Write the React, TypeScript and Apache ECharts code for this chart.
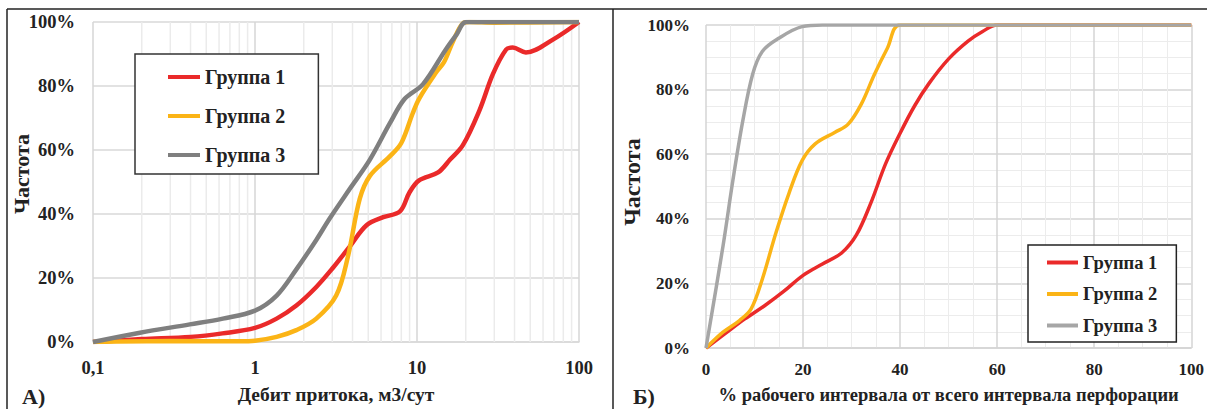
import React, { useEffect, useRef } from "react";
import * as echarts from "echarts";

const FONT = "Liberation Serif, Times New Roman, serif";

const seriesNames = ["Группа 1", "Группа 2", "Группа 3"];
const yTitle = "Частота";

// Left chart (A): log x (дебит), y = cumulative frequency %
const leftGroup1: [number, number][] = [
  [0.1, 0], [0.2, 0.9], [0.4, 1.6], [0.63, 2.7], [1, 4.4], [1.36, 7.3], [1.8, 11.4],
  [2.39, 17.2], [3.03, 23.2], [3.84, 29.8], [4.88, 36.5], [6.19, 39],
  [7.85, 40.8], [9, 46.8], [10.3, 50.5], [13.5, 53], [16, 57], [19.2, 61.5],
  [24.3, 72.4], [29.4, 83.7], [35.5, 91.4], [39, 92], [47, 90.5], [69, 94.5], [100, 100],
];
const leftGroup2: [number, number][] = [
  [0.1, 0], [0.3, 0.3], [0.8, 0.2], [1, 0.4], [1.36, 1.6], [1.8, 3.7], [2.39, 7.3],
  [3.17, 14.5], [3.75, 26.8], [4.43, 44.7], [5.12, 51.9], [6.79, 58], [8, 62.2],
  [9.4, 71.4], [10.3, 76], [13.1, 84.2], [14.7, 87.5], [16.7, 94], [19.2, 99.6],
  [21, 100], [30, 99.8], [100, 100],
];
const leftGroup3: [number, number][] = [
  [0.1, 0], [0.195, 2.9], [0.396, 5.5], [0.633, 7.3], [1, 9.8], [1.36, 14.5], [1.8, 22.7],
  [2.39, 31.9], [2.89, 38.6], [3.84, 47.8], [5.12, 57], [6.79, 68.3], [8.4, 76],
  [10.9, 80.6], [15.1, 91.5], [17.5, 96], [20.1, 100], [30, 100], [100, 100],
];
const leftMinorX = [
  0.2, 0.3, 0.4, 0.5, 0.6, 0.7, 0.8, 0.9,
  2, 3, 4, 5, 6, 7, 8, 9,
  20, 30, 40, 50, 60, 70, 80, 90,
];

// Right chart (Б): % of working interval
const rightGroup1: [number, number][] = [
  [0, 0], [4, 4.5], [8, 9], [12, 13], [16, 17.5], [20, 22.5], [24, 26], [28, 29.5],
  [31, 35], [34, 45], [37, 57], [40, 66.5], [43, 75], [46, 82], [50, 89.5], [54, 95],
  [57, 98], [60, 100], [70, 100], [100, 100],
];
const rightGroup2: [number, number][] = [
  [0, 0], [3.5, 4.9], [6.9, 8.5], [9.3, 12.1], [11.6, 21.3], [14.4, 35.6], [17.1, 47.9],
  [19.8, 58], [22.5, 63.2], [26.6, 66.8], [29.3, 69.3], [32, 75.5], [34.7, 84.7],
  [37.4, 92.9], [40, 100], [60, 100], [100, 100],
];
const rightGroup3: [number, number][] = [
  [0, 0], [3.5, 31.5], [5.55, 52], [7.58, 70.3], [9.6, 84.7], [11.6, 91.8], [15, 95.9],
  [19.8, 99.5], [24, 100], [30, 100], [100, 100],
];

const leftColors = ["#ea2a2a", "#fbb416", "#7f7f7f"];
const rightColors = ["#ea2a2a", "#fbb416", "#a6a6a6"];

const txt = { fontFamily: FONT, fontWeight: "bold" as const, color: "#222" };

export default function App() {
  const ref = useRef<HTMLDivElement>(null);
  useEffect(() => {
    document.body.style.margin = "0";
    const chart = echarts.init(ref.current!, undefined, { renderer: "svg" });
    const lineSeries = (name: string, data: [number, number][], color: string, idx: number, width: number) => ({
      type: "line",
      name,
      data,
      xAxisIndex: idx,
      yAxisIndex: idx,
      smooth: 0.35,
      symbol: "none",
      showSymbol: false,
      lineStyle: { color, width },
      itemStyle: { color },
      z: 3,
    });
    const legendData = (colors: string[]) =>
      seriesNames.map((n, i) => ({ name: n, itemStyle: { color: colors[i] } }));

    chart.setOption({
      animation: false,
      textStyle: { fontFamily: FONT },
      grid: [
        { left: 93, top: 22, width: 486, height: 325 },
        { left: 706, top: 25, width: 492, height: 326 },
      ],
      xAxis: [
        {
          type: "log",
          logBase: 10,
          min: 0.1,
          max: 100,
          gridIndex: 0,
          name: "Дебит притока, м3/сут",
          nameLocation: "middle",
          nameGap: 42,
          nameTextStyle: { ...txt, fontSize: 19.5 },
          axisLine: { show: true, lineStyle: { color: "#d9d9d9", width: 1.5 } },
          axisTick: { show: false },
          axisLabel: {
            ...txt,
            fontSize: 18.5,
            margin: 16,
            formatter: (v: number) => String(Number(v.toPrecision(6))).replace(".", ","),
          },
          splitLine: { show: true, lineStyle: { color: "#d6d6d6", width: 1.5 } },
        },
        {
          type: "value",
          min: 0,
          max: 100,
          interval: 20,
          gridIndex: 1,
          name: "% рабочего интервала от всего интервала перфорации",
          nameLocation: "middle",
          nameGap: 37,
          nameTextStyle: { ...txt, fontSize: 18.5 },
          axisLine: { show: true, lineStyle: { color: "#d4d4d4", width: 1.5 } },
          axisTick: { show: false },
          axisLabel: { ...txt, fontSize: 17, margin: 13 },
          splitLine: { show: true, lineStyle: { color: "#d4d4d4", width: 1.5 } },
          minorTick: { show: false, splitNumber: 4 },
          minorSplitLine: { show: true, lineStyle: { color: "#ececec", width: 1 } },
        },
      ],
      yAxis: [
        {
          type: "value",
          min: 0,
          max: 100,
          interval: 20,
          gridIndex: 0,
          axisLine: { show: false },
          axisTick: { show: false },
          axisLabel: { ...txt, fontSize: 18.5, margin: 18, formatter: "{value}%" },
          splitLine: { show: true, lineStyle: { color: "#d9d9d9", width: 1.5 } },
        },
        {
          type: "value",
          min: 0,
          max: 100,
          interval: 20,
          gridIndex: 1,
          axisLine: { show: false },
          axisTick: { show: false },
          axisLabel: { ...txt, fontSize: 17, margin: 16, formatter: "{value}%" },
          splitLine: { show: true, lineStyle: { color: "#d4d4d4", width: 1.5 } },
          minorTick: { show: false, splitNumber: 4 },
          minorSplitLine: { show: true, lineStyle: { color: "#ececec", width: 1 } },
        },
      ],
      legend: [
        {
          orient: "vertical",
          left: 135,
          top: 54,
          padding: [13, 33, 9, 33],
          itemGap: 19,
          itemWidth: 32,
          itemHeight: 4,
          icon: "rect",
          selectedMode: false,
          borderColor: "#333",
          borderWidth: 1.5,
          backgroundColor: "#fff",
          textStyle: { ...txt, fontSize: 20 },
          data: legendData(leftColors),
        },
        {
          orient: "vertical",
          left: 1028,
          top: 245,
          padding: [8, 19, 7, 19],
          itemGap: 12.5,
          itemWidth: 31,
          itemHeight: 4,
          icon: "rect",
          selectedMode: false,
          borderColor: "#222",
          borderWidth: 1.5,
          backgroundColor: "#fff",
          textStyle: { ...txt, fontSize: 18.5 },
          data: legendData(rightColors),
        },
      ],
      series: [
        {
          type: "custom",
          xAxisIndex: 0,
          yAxisIndex: 0,
          silent: true,
          z: 1,
          data: leftMinorX.map((v) => [v, 0]),
          encode: { x: 0, y: 1 },
          renderItem: (_p: any, api: any) => {
            const x = api.value(0);
            const a = api.coord([x, 0]);
            const b = api.coord([x, 100]);
            return {
              type: "line",
              shape: { x1: a[0], y1: a[1], x2: b[0], y2: b[1] },
              style: { stroke: "#ebebeb", lineWidth: 1.5 },
            };
          },
        },
        lineSeries(seriesNames[0], leftGroup1, leftColors[0], 0, 4.5),
        lineSeries(seriesNames[1], leftGroup2, leftColors[1], 0, 4.5),
        lineSeries(seriesNames[2], leftGroup3, leftColors[2], 0, 4.5),
        lineSeries(seriesNames[0], rightGroup1, rightColors[0], 1, 3.5),
        lineSeries(seriesNames[1], rightGroup2, rightColors[1], 1, 3.5),
        lineSeries(seriesNames[2], rightGroup3, rightColors[2], 1, 3.5),
      ],
      graphic: [
        { type: "line", shape: { x1: 7, y1: 9, x2: 1207, y2: 9 }, style: { stroke: "#222", lineWidth: 1.5 } },
        { type: "line", shape: { x1: 7, y1: 9, x2: 7, y2: 409 }, style: { stroke: "#222", lineWidth: 1.5 } },
        { type: "line", shape: { x1: 613, y1: 9, x2: 613, y2: 409 }, style: { stroke: "#222", lineWidth: 1.5 } },
        {
          type: "text",
          x: 21,
          y: 174,
          rotation: Math.PI / 2,
          style: {
            text: yTitle,
            font: `bold 22px ${FONT}`,
            fill: "#222",
            align: "center",
            verticalAlign: "middle",
          },
        },
        {
          type: "text",
          x: 632,
          y: 182,
          rotation: Math.PI / 2,
          style: {
            text: yTitle,
            font: `bold 24px ${FONT}`,
            fill: "#222",
            align: "center",
            verticalAlign: "middle",
          },
        },
        {
          type: "text",
          left: 22,
          top: 385,
          style: { text: "А)", font: `bold 22px ${FONT}`, fill: "#222" },
        },
        {
          type: "text",
          left: 633,
          top: 385,
          style: { text: "Б)", font: `bold 22px ${FONT}`, fill: "#222" },
        },
      ],
    });
    return () => chart.dispose();
  }, []);
  return <div ref={ref} style={{ width: 1207, height: 409 }} />;
}
